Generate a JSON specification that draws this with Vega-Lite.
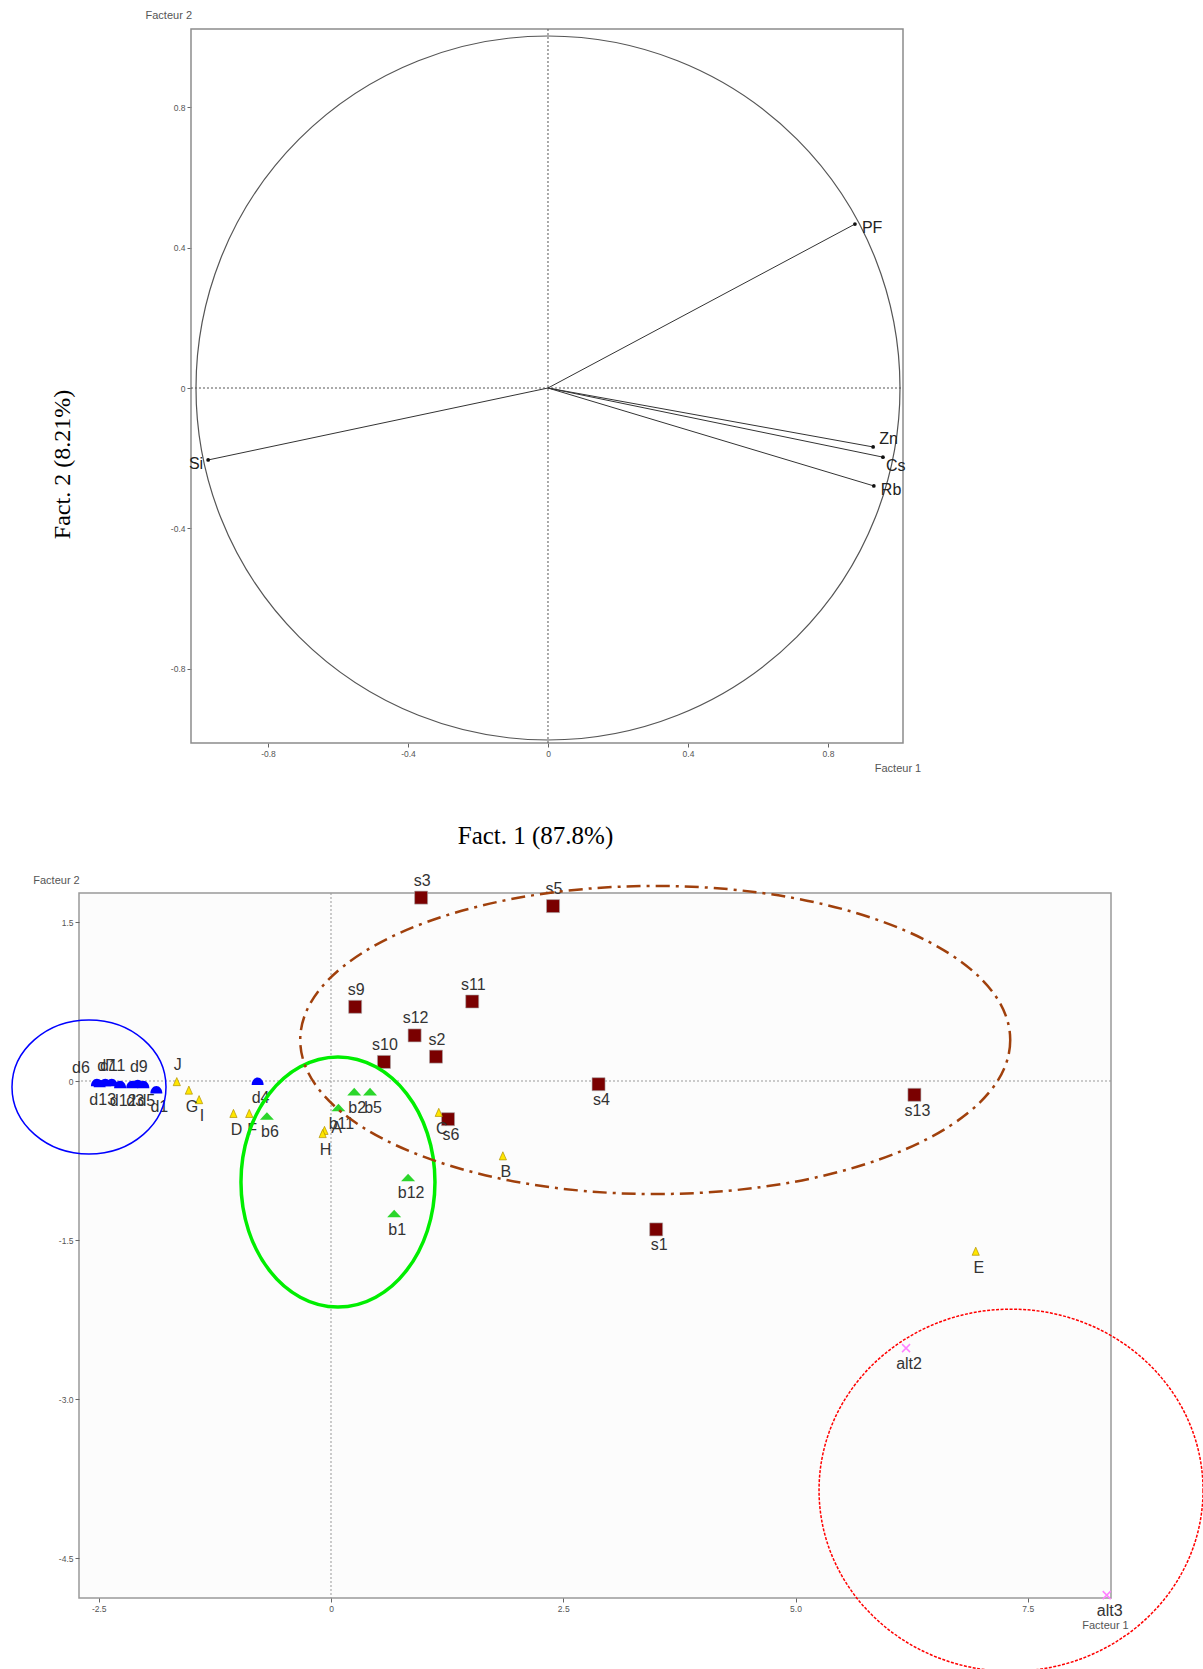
{
  "$schema": "https://vega.github.io/schema/vega-lite/v6.json",
  "padding": {"left": 8, "top": 10, "right": 0, "bottom": 0},
  "background": "white",
  "bounds": "flush",
  "spacing": 150,
  "config": {
    "view": {"stroke": null},
    "axis": {"labelFont": "Liberation Sans", "labelFontSize": 8.5, "labelColor": "#555", "tickColor": "#666", "tickSize": 4, "grid": false, "domain": false, "labelPadding": 2, "titleFont": "Liberation Sans", "titleFontWeight": "normal"},
    "text": {"font": "Liberation Sans"}
  },
  "datasets": {
    "frame": [
      {"x0": -1.02, "x1": 1.0143, "y0": -1.0114, "y1": 1.0228}
    ],
    "vars": [
      {"var": "PF", "f1": 0.877, "f2": 0.467},
      {"var": "Zn", "f1": 0.929, "f2": -0.168},
      {"var": "Cs", "f1": 0.957, "f2": -0.197},
      {"var": "Rb", "f1": 0.931, "f2": -0.279},
      {"var": "Si", "f1": -0.971, "f2": -0.205}
    ],
    "obs": [
      {"id": "s1", "grp": "s", "f1": 3.50, "f2": -1.40},
      {"id": "s2", "grp": "s", "f1": 1.13, "f2": 0.23},
      {"id": "s3", "grp": "s", "f1": 0.97, "f2": 1.73},
      {"id": "s4", "grp": "s", "f1": 2.88, "f2": -0.03},
      {"id": "s5", "grp": "s", "f1": 2.39, "f2": 1.65},
      {"id": "s6", "grp": "s", "f1": 1.26, "f2": -0.36},
      {"id": "s9", "grp": "s", "f1": 0.26, "f2": 0.70},
      {"id": "s10", "grp": "s", "f1": 0.57, "f2": 0.18},
      {"id": "s11", "grp": "s", "f1": 1.52, "f2": 0.75},
      {"id": "s12", "grp": "s", "f1": 0.90, "f2": 0.43},
      {"id": "s13", "grp": "s", "f1": 6.28, "f2": -0.13},
      {"id": "b1", "grp": "b", "f1": 0.68, "f2": -1.25},
      {"id": "b2", "grp": "b", "f1": 0.25, "f2": -0.10},
      {"id": "b5", "grp": "b", "f1": 0.42, "f2": -0.10},
      {"id": "b6", "grp": "b", "f1": -0.69, "f2": -0.33},
      {"id": "b11", "grp": "b", "f1": 0.08, "f2": -0.25},
      {"id": "b12", "grp": "b", "f1": 0.83, "f2": -0.91},
      {"id": "A", "grp": "y", "f1": -0.07, "f2": -0.47},
      {"id": "B", "grp": "y", "f1": 1.85, "f2": -0.71},
      {"id": "C", "grp": "y", "f1": 1.16, "f2": -0.30},
      {"id": "D", "grp": "y", "f1": -1.05, "f2": -0.31},
      {"id": "E", "grp": "y", "f1": 6.94, "f2": -1.61},
      {"id": "F", "grp": "y", "f1": -0.88, "f2": -0.31},
      {"id": "G", "grp": "y", "f1": -1.53, "f2": -0.09},
      {"id": "H", "grp": "y", "f1": -0.09, "f2": -0.50},
      {"id": "I", "grp": "y", "f1": -1.42, "f2": -0.18},
      {"id": "J", "grp": "y", "f1": -1.66, "f2": -0.01},
      {"id": "d6", "grp": "d", "f1": -2.52, "f2": -0.02},
      {"id": "d13", "grp": "d", "f1": -2.49, "f2": -0.03},
      {"id": "d7", "grp": "d", "f1": -2.43, "f2": -0.02},
      {"id": "d11", "grp": "d", "f1": -2.36, "f2": -0.02},
      {"id": "d12", "grp": "d", "f1": -2.27, "f2": -0.04},
      {"id": "d3", "grp": "d", "f1": -2.14, "f2": -0.04},
      {"id": "d9", "grp": "d", "f1": -2.08, "f2": -0.03},
      {"id": "d5", "grp": "d", "f1": -2.02, "f2": -0.04},
      {"id": "d1", "grp": "d", "f1": -1.88, "f2": -0.09},
      {"id": "d4", "grp": "d", "f1": -0.79, "f2": -0.01},
      {"id": "alt2", "grp": "alt", "f1": 6.19, "f2": -2.52},
      {"id": "alt3", "grp": "alt", "f1": 8.35, "f2": -4.85}
    ]
  },
  "vconcat": [
    {
      "width": 824,
      "height": 714,
      "data": {"name": "vars"},
      "layer": [
        {
          "data": {"name": "frame"},
          "mark": {"type": "rect", "fill": "transparent", "stroke": "#8c8c8c", "strokeWidth": 1.5},
          "encoding": {
            "x": {"field": "x0", "type": "quantitative",
              "scale": {"domain": [-1.34, 1.0143], "nice": false, "zero": false},
              "axis": {"values": [-0.8, -0.4, 0, 0.4, 0.8], "labelExpr": "datum.value == 0 ? '0' : replace(format(datum.value, '.1f'), '\u2212', '-')",
                "title": "Fact. 1 (87.8%)", "titleFont": "Liberation Serif", "titleFontSize": 25, "titleColor": "#000",
                "titleX": 456, "titleY": 92, "titleAlign": "center", "titleBaseline": "middle", "titleAngle": 0}},
            "x2": {"field": "x1"},
            "y": {"field": "y0", "type": "quantitative",
              "scale": {"domain": [-1.0114, 1.0228], "nice": false, "zero": false},
              "axis": {"values": [-0.8, -0.4, 0, 0.4, 0.8], "offset": -112, "labelExpr": "datum.value == 0 ? '0' : replace(format(datum.value, '.1f'), '\u2212', '-')",
                "title": "Fact. 2 (8.21%)", "titleFont": "Liberation Serif", "titleFontSize": 24, "titleColor": "#000",
                "titleX": -129, "titleY": 435, "titleAlign": "center", "titleBaseline": "middle", "titleAngle": 270}},
            "y2": {"field": "y1"}
          }
        },
        {
          "data": {"values": [{}]},
          "mark": {"type": "rule", "strokeDash": [2, 2], "color": "#555", "strokeWidth": 1},
          "encoding": {"x": {"datum": 0, "type": "quantitative"}}
        },
        {
          "data": {"name": "frame"},
          "mark": {"type": "rule", "strokeDash": [2, 2], "color": "#555", "strokeWidth": 1},
          "encoding": {"x": {"field": "x0", "type": "quantitative"}, "x2": {"field": "x1"}, "y": {"datum": 0, "type": "quantitative"}}
        },
        {
          "data": {"values": [{}]},
          "mark": {"type": "point", "shape": "circle", "size": 495616, "filled": false, "stroke": "#555", "strokeWidth": 1.2, "opacity": 1},
          "encoding": {"x": {"datum": 0, "type": "quantitative"}, "y": {"datum": 0, "type": "quantitative"}}
        },
        {
          "mark": {"type": "rule", "color": "#333", "strokeWidth": 1},
          "encoding": {
            "x": {"field": "f1", "type": "quantitative"}, "y": {"field": "f2", "type": "quantitative"},
            "x2": {"datum": 0}, "y2": {"datum": 0}
          }
        },
        {
          "mark": {"type": "point", "filled": true, "size": 14, "color": "#111", "opacity": 1},
          "encoding": {"x": {"field": "f1", "type": "quantitative"}, "y": {"field": "f2", "type": "quantitative"}}
        },
        {
          "transform": [{"filter": {"field": "var", "oneOf": ["PF", "Rb"]}}],
          "mark": {"type": "text", "align": "left", "baseline": "middle", "dx": 7, "dy": 4, "fontSize": 16, "color": "#222"},
          "encoding": {"x": {"field": "f1", "type": "quantitative"}, "y": {"field": "f2", "type": "quantitative"}, "text": {"field": "var"}}
        },
        {
          "transform": [{"filter": {"field": "var", "equal": "Zn"}}],
          "mark": {"type": "text", "align": "left", "baseline": "middle", "dx": 6, "dy": -8, "fontSize": 16, "color": "#222"},
          "encoding": {"x": {"field": "f1", "type": "quantitative"}, "y": {"field": "f2", "type": "quantitative"}, "text": {"field": "var"}}
        },
        {
          "transform": [{"filter": {"field": "var", "equal": "Cs"}}],
          "mark": {"type": "text", "align": "left", "baseline": "middle", "dx": 3, "dy": 9, "fontSize": 16, "color": "#222"},
          "encoding": {"x": {"field": "f1", "type": "quantitative"}, "y": {"field": "f2", "type": "quantitative"}, "text": {"field": "var"}}
        },
        {
          "transform": [{"filter": {"field": "var", "equal": "Si"}}],
          "mark": {"type": "text", "align": "right", "baseline": "middle", "dx": -5, "dy": 4, "fontSize": 16, "color": "#222"},
          "encoding": {"x": {"field": "f1", "type": "quantitative"}, "y": {"field": "f2", "type": "quantitative"}, "text": {"field": "var"}}
        },
        {
          "data": {"values": [{}]},
          "mark": {"type": "text", "text": "Facteur 2", "align": "right", "baseline": "middle", "dx": 1, "dy": -13, "fontSize": 11, "color": "#555"},
          "encoding": {"x": {"datum": -1.02, "type": "quantitative"}, "y": {"datum": 1.0228, "type": "quantitative"}}
        },
        {
          "data": {"values": [{}]},
          "mark": {"type": "text", "text": "Facteur 1", "align": "center", "baseline": "middle", "dx": -5, "dy": 26, "fontSize": 11, "color": "#555"},
          "encoding": {"x": {"datum": 1.0143, "type": "quantitative"}, "y": {"datum": -1.0114, "type": "quantitative"}}
        }
      ]
    },
    {
      "width": 1032,
      "height": 705,
      "view": {"stroke": "#999", "strokeWidth": 1.5, "fill": "#fcfcfc"},
      "data": {"name": "obs"},
      "layer": [
        {
          "data": {"values": [{}]},
          "mark": {"type": "rule", "strokeDash": [2, 2], "color": "#999", "strokeWidth": 1},
          "encoding": {"x": {"datum": 0, "type": "quantitative",
            "scale": {"domain": [-2.7126, 8.396], "nice": false, "zero": false},
            "axis": {"values": [-2.5, 0, 2.5, 5, 7.5], "labelExpr": "datum.value == 0 ? '0' : replace(format(datum.value, '.1f'), '\u2212', '-')",
              "title": "Facteur 1", "titleFontSize": 11, "titleColor": "#555", "titleX": 1026, "titleY": 27, "titleAlign": "center", "titleBaseline": "middle"}}}
        },
        {
          "data": {"values": [{}]},
          "mark": {"type": "rule", "strokeDash": [2, 2], "color": "#999", "strokeWidth": 1},
          "encoding": {"y": {"datum": 0, "type": "quantitative",
            "scale": {"domain": [-4.877, 1.7736], "nice": false, "zero": false},
            "axis": {"values": [1.5, 0, -1.5, -3, -4.5], "labelExpr": "datum.value == 0 ? '0' : replace(format(datum.value, '.1f'), '\u2212', '-')",
              "title": "Facteur 2", "titleFontSize": 11, "titleColor": "#555", "titleAngle": 0, "titleX": -23, "titleY": -13, "titleAlign": "center", "titleBaseline": "middle"}}}
        },
        {
          "transform": [{"filter": {"field": "grp", "equal": "s"}}],
          "mark": {"type": "point", "shape": "square", "size": 169, "filled": true, "color": "#7a0000", "stroke": "#aaa", "strokeWidth": 0.6, "opacity": 1},
          "encoding": {"x": {"field": "f1", "type": "quantitative"}, "y": {"field": "f2", "type": "quantitative"}}
        },
        {
          "transform": [{"filter": {"field": "grp", "equal": "b"}}],
          "mark": {"type": "point", "shape": "M 0 -0.55 L 1 0.55 L -1 0.55 Z", "size": 196, "filled": true, "color": "#2bd62b", "opacity": 1},
          "encoding": {"x": {"field": "f1", "type": "quantitative"}, "y": {"field": "f2", "type": "quantitative"}}
        },
        {
          "transform": [{"filter": {"field": "grp", "equal": "y"}}],
          "mark": {"type": "point", "shape": "M 0 -1 L 0.8 0.8 L -0.8 0.8 Z", "size": 81, "filled": true, "color": "#ffe600", "stroke": "#b09000", "strokeWidth": 0.7, "opacity": 1},
          "encoding": {"x": {"field": "f1", "type": "quantitative"}, "y": {"field": "f2", "type": "quantitative"}}
        },
        {
          "transform": [{"filter": {"field": "grp", "equal": "d"}}],
          "mark": {"type": "point", "shape": "M -1 0.5 C -1 -0.19 -0.55 -0.75 0 -0.75 C 0.55 -0.75 1 -0.19 1 0.5 Z", "size": 144, "filled": true, "color": "#0000ff", "opacity": 1},
          "encoding": {"x": {"field": "f1", "type": "quantitative"}, "y": {"field": "f2", "type": "quantitative"}}
        },
        {
          "transform": [{"filter": {"field": "grp", "equal": "alt"}}],
          "mark": {"type": "point", "shape": "M -1 -1 L 1 1 M -1 1 L 1 -1", "size": 64, "filled": false, "stroke": "#ff80ff", "strokeWidth": 1.5, "opacity": 1},
          "encoding": {"x": {"field": "f1", "type": "quantitative"}, "y": {"field": "f2", "type": "quantitative"}}
        },
        {
          "transform": [{"filter": {"field": "id", "oneOf": ["s2", "s3", "s5", "s9", "s10", "s11", "s12", "J", "d7", "d11", "d9"]}}],
          "mark": {"type": "text", "align": "center", "baseline": "middle", "dx": 1, "dy": -17, "fontSize": 16, "color": "#333"},
          "encoding": {"x": {"field": "f1", "type": "quantitative"}, "y": {"field": "f2", "type": "quantitative"}, "text": {"field": "id"}}
        },
        {
          "transform": [{"filter": {"field": "id", "equal": "d6"}}],
          "mark": {"type": "text", "align": "center", "baseline": "middle", "dx": -16, "dy": -15, "fontSize": 16, "color": "#333"},
          "encoding": {"x": {"field": "f1", "type": "quantitative"}, "y": {"field": "f2", "type": "quantitative"}, "text": {"field": "id"}}
        },
        {
          "transform": [{"filter": {"field": "id", "equal": "A"}}],
          "mark": {"type": "text", "align": "center", "baseline": "middle", "dx": 12, "dy": -3, "fontSize": 16, "color": "#333"},
          "encoding": {"x": {"field": "f1", "type": "quantitative"}, "y": {"field": "f2", "type": "quantitative"}, "text": {"field": "id"}}
        },
        {
          "transform": [{"filter": {"not": {"field": "id", "oneOf": ["s2", "s3", "s5", "s9", "s10", "s11", "s12", "J", "d7", "d11", "d9", "d6", "A"]}}}],
          "mark": {"type": "text", "align": "center", "baseline": "middle", "dx": 3, "dy": 16, "fontSize": 16, "color": "#333"},
          "encoding": {"x": {"field": "f1", "type": "quantitative"}, "y": {"field": "f2", "type": "quantitative"}, "text": {"field": "id"}}
        },
        {
          "data": {"values": [{}]},
          "mark": {"type": "point", "shape": "M 1 0 C 1 0.4805 0.5523 0.87 0 0.87 C -0.5523 0.87 -1 0.4805 -1 0 C -1 -0.4805 -0.5523 -0.87 0 -0.87 C 0.5523 -0.87 1 -0.4805 1 0 Z", "size": 23716, "filled": false, "stroke": "#0000ff", "strokeWidth": 1.5, "opacity": 1},
          "encoding": {"x": {"datum": -2.605, "type": "quantitative"}, "y": {"datum": -0.057, "type": "quantitative"}}
        },
        {
          "data": {"values": [{}]},
          "mark": {"type": "point", "shape": "M 1 0 C 1 0.7119 0.5523 1.289 0 1.289 C -0.5523 1.289 -1 0.7119 -1 0 C -1 -0.7119 -0.5523 -1.289 0 -1.289 C 0.5523 -1.289 1 -0.7119 1 0 Z", "size": 37636, "filled": false, "stroke": "#00ee00", "strokeWidth": 3.5, "opacity": 1},
          "encoding": {"x": {"datum": 0.075, "type": "quantitative"}, "y": {"datum": -0.953, "type": "quantitative"}}
        },
        {
          "data": {"values": [{}]},
          "mark": {"type": "point", "shape": "M 1 0 C 1 0.2397 0.5523 0.434 0 0.434 C -0.5523 0.434 -1 0.2397 -1 0 C -1 -0.2397 -0.5523 -0.434 0 -0.434 C 0.5523 -0.434 1 -0.2397 1 0 Z", "size": 504100, "filled": false, "stroke": "#a0400c", "strokeWidth": 2.5, "strokeDash": [14, 6, 3, 6], "opacity": 1},
          "encoding": {"x": {"datum": 3.49, "type": "quantitative"}, "y": {"datum": 0.387, "type": "quantitative"}}
        },
        {
          "data": {"values": [{}]},
          "mark": {"type": "point", "shape": "M 1 0 C 1 0.5208 0.5523 0.943 0 0.943 C -0.5523 0.943 -1 0.5208 -1 0 C -1 -0.5208 -0.5523 -0.943 0 -0.943 C 0.5523 -0.943 1 -0.5208 1 0 Z", "size": 147456, "filled": false, "stroke": "#ff0000", "strokeWidth": 1.5, "strokeDash": [3, 1.5], "opacity": 1},
          "encoding": {"x": {"datum": 7.32, "type": "quantitative"}, "y": {"datum": -3.86, "type": "quantitative"}}
        }
      ]
    }
  ]
}
